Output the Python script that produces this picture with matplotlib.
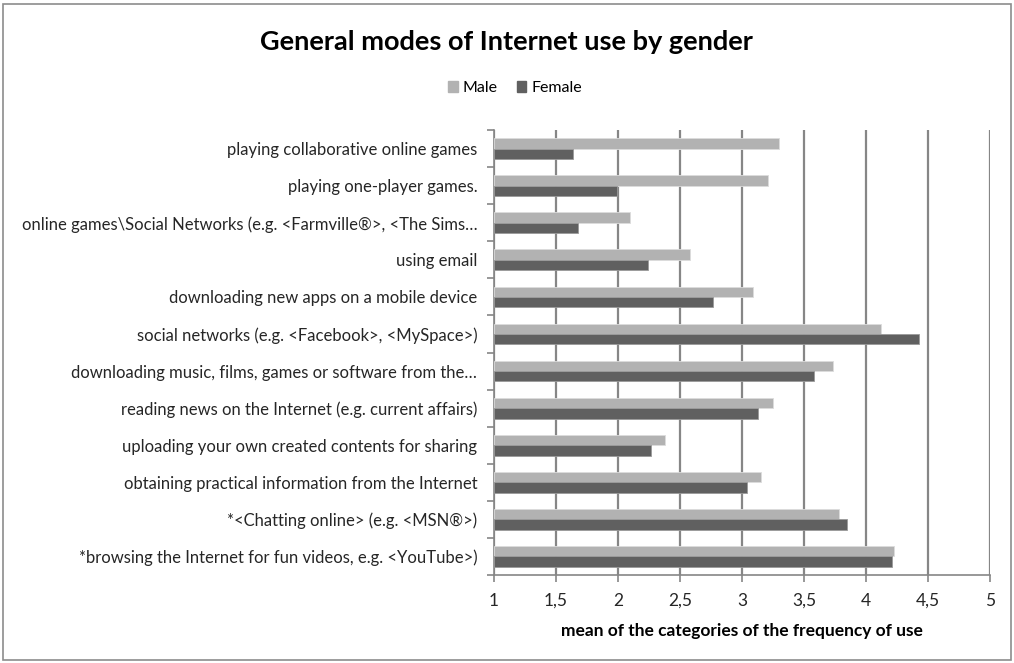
import matplotlib
matplotlib.use("Agg")
import matplotlib.pyplot as plt
from matplotlib.patches import Rectangle, Patch
import numpy as np

#=================
# data
#=================
categories = [
    "playing collaborative online games",
    "playing one-player games.",
    "online games\\Social Networks (e.g. <Farmville®>, <The Sims…",
    "using email",
    "downloading new apps on a mobile device",
    "social networks (e.g. <Facebook>, <MySpace>)",
    "downloading music, films, games or software from the…",
    "reading news on the Internet (e.g. current affairs)",
    "uploading your own created contents for sharing",
    "obtaining practical information from the Internet",
    "*<Chatting online> (e.g. <MSN®>)",
    "*browsing the Internet for fun videos, e.g. <YouTube>)",
]
male = [3.30, 3.21, 2.10, 2.58, 3.09, 4.12, 3.73, 3.25, 2.38, 3.15, 3.78, 4.23]
female = [1.64, 1.99, 1.68, 2.24, 2.77, 4.43, 3.58, 3.13, 2.27, 3.04, 3.85, 4.21]
x_ticks = [1, 1.5, 2, 2.5, 3, 3.5, 4, 4.5, 5]
x_tick_labels = ["1", "1,5", "2", "2,5", "3", "3,5", "4", "4,5", "5"]

male_color = "#b2b2b2"
female_color = "#606060"
grid_color = "#868686"

plt.rcParams["font.family"] = ["Lato", "DejaVu Sans"]

fig = plt.figure(figsize=(10.14, 6.63), dpi=100)
ax = fig.add_axes([0.4872, 0.1327, 0.4891, 0.6712])

y = np.arange(len(categories))
h = 0.28
ax.barh(y - h / 2, [m - 1 for m in male], height=h, left=1,
        color=male_color, edgecolor="#dcdcdc", linewidth=0.6, label="Male", zorder=3)
ax.barh(y + h / 2, [f - 1 for f in female], height=h, left=1,
        color=female_color, edgecolor="#9a9a9a", linewidth=0.6, label="Female", zorder=3)

ax.set_xlim(1, 5)
ax.set_ylim(len(categories) - 0.5, -0.5)
ax.set_xticks(x_ticks)
ax.set_xticklabels(x_tick_labels, fontsize=12.5, color="#262626")
ax.set_yticks(y)
ax.set_yticklabels(categories, fontsize=12.0, color="#262626")
ax.set_yticks(np.arange(-0.5, len(categories), 1), minor=True)
ax.tick_params(axis="y", which="major", length=0, pad=12)
ax.tick_params(axis="y", which="minor", length=5, color=grid_color, width=1.2)
ax.tick_params(axis="x", length=5, color=grid_color, width=1.2, pad=8)

ax.grid(True, axis="x", color=grid_color, linewidth=1.6, zorder=0)
for s in ["top", "right"]:
    ax.spines[s].set_visible(False)
for s in ["left", "bottom"]:
    ax.spines[s].set_color(grid_color)
    ax.spines[s].set_linewidth(1.2)

ax.set_xlabel("mean of the categories of the frequency of use",
              fontsize=12.5, fontweight="bold", labelpad=10)

fig.text(0.499, 0.936, "General modes of Internet use by gender",
         ha="center", va="center", fontsize=19.5, fontweight="bold")

handles = [Patch(color=male_color, label="Male"), Patch(color=female_color, label="Female")]
fig.legend(handles=handles, loc="center", bbox_to_anchor=(0.508, 0.867), ncol=2,
           frameon=False, fontsize=11.5, handlelength=0.6, handleheight=0.6,
           handletextpad=0.3, columnspacing=1.2)

fig.patches.append(Rectangle((0.003, 0.004), 0.994, 0.99, transform=fig.transFigure,
                             fill=False, edgecolor="#8c8c8c", linewidth=1.2))

plt.savefig("out.png", dpi=100)
